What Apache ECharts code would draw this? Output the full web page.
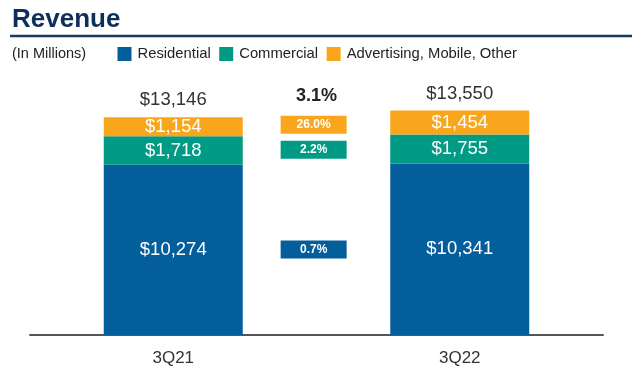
<!DOCTYPE html>
<html>
<head>
<meta charset="utf-8">
<script src="https://cdn.jsdelivr.net/npm/echarts@6/dist/echarts.min.js"></script>
<style>
html,body{margin:0;padding:0;background:#fff;}
#c{width:639px;height:378px;}
</style>
</head>
<body>
<div id="c"></div>
<script>
const categories = ['3Q21', '3Q22'];
const residential = [10274, 10341];
const commercial = [1718, 1755];
const advertising = [1154, 1454];
const totals = [13146, 13550];
const seriesNames = ['Residential', 'Commercial', 'Advertising, Mobile, Other'];
const growthLabels = ['0.7%', '2.2%', '26.0%'];
const totalGrowth = '3.1%';

const colors = ['#035e9b', '#009a85', '#f9a61c'];
const FONT = '"Liberation Sans", Arial, sans-serif';
const money = v => '$' + Number(v).toLocaleString('en-US');

// box vertical positions: average midpoint of each segment across the two bars
const mid = (arrs, k) => {
  let s = 0;
  for (let i = 0; i < categories.length; i++) {
    let base = 0;
    for (let j = 0; j < k; j++) base += arrs[j][i];
    s += base + arrs[k][i] / 2;
  }
  return s / categories.length;
};
const segs = [residential, commercial, advertising];
const boxData = growthLabels.map((g, k) => ({
  value: [0.49, mid(segs, k)],
  label: g,
  itemStyle: { color: colors[k], opacity: 1 }
}));

const barLabel = {
  show: true, position: 'inside', color: '#fff', fontSize: 18.5, fontFamily: FONT,
  formatter: p => money(p.value)
};

const chart = echarts.init(document.getElementById('c'), null, { renderer: 'canvas' });
chart.setOption({
  animation: false,
  backgroundColor: '#fff',
  textStyle: { fontFamily: FONT },
  title: {
    text: 'Revenue', left: 12, top: 7, padding: 0,
    textStyle: { fontSize: 26, fontWeight: 'bold', color: '#0d2f5a', fontFamily: FONT }
  },
  graphic: [
    { type: 'line', shape: { x1: 10, y1: 36, x2: 632, y2: 36 }, style: { stroke: '#1b3a62', lineWidth: 2.5 } },
    { type: 'text', left: 12, top: 46, style: { text: '(In Millions)', fontSize: 14.5, fill: '#222', fontFamily: FONT } }
  ],
  legend: {
    data: seriesNames, left: 117.5, top: 46.5, padding: 0,
    itemWidth: 14, itemHeight: 14, itemGap: 8.5,
    icon: 'rect',
    textStyle: { fontSize: 14.8, color: '#222', fontFamily: FONT, padding: [0, 0, 0, 1] }
  },
  grid: { left: 30, right: 36, top: 86.5, bottom: 43, containLabel: false, outerBoundsMode: 'none' },
  xAxis: [
    {
      type: 'category', data: categories,
      axisLine: { show: true, lineStyle: { color: '#555', width: 2 } },
      axisTick: { show: false },
      axisLabel: { color: '#333', fontSize: 17, margin: 15, fontFamily: FONT },
      splitLine: { show: false }
    },
    { type: 'value', min: -0.5, max: 1.5, show: false, splitLine: { show: false } }
  ],
  yAxis: { type: 'value', min: 0, max: 15000, show: false, splitLine: { show: false } },
  series: [
    { name: seriesNames[0], type: 'bar', stack: 't', data: residential, barWidth: 139, itemStyle: { color: colors[0] }, label: barLabel },
    { name: seriesNames[1], type: 'bar', stack: 't', data: commercial, itemStyle: { color: colors[1] }, label: barLabel },
    { name: seriesNames[2], type: 'bar', stack: 't', data: advertising, itemStyle: { color: colors[2] }, label: barLabel },
    {
      name: 'totals', type: 'scatter', data: totals, symbolSize: 1,
      itemStyle: { color: 'rgba(0,0,0,0)', opacity: 1 },
      label: { show: true, position: 'top', distance: 7, color: '#333', fontSize: 18.5, fontFamily: FONT, formatter: p => money(p.value) },
      silent: true
    },
    {
      name: 'growth', type: 'scatter', xAxisIndex: 1, data: boxData,
      symbol: 'rect', symbolSize: [66, 18], itemStyle: { opacity: 1 },
      label: { show: true, position: 'inside', color: '#fff', fontSize: 12, fontWeight: 'bold', fontFamily: FONT, formatter: p => p.data.label },
      silent: true
    },
    {
      name: 'totalGrowth', type: 'scatter', xAxisIndex: 1,
      data: [{ value: boxData[2].value.map((v, i) => i === 0 ? 0.5 : v) }],
      symbol: 'rect', symbolSize: [66, 18], itemStyle: { color: 'rgba(0,0,0,0)', opacity: 1 },
      label: { show: true, position: 'top', distance: 11, color: '#222', fontSize: 18, fontWeight: 'bold', fontFamily: FONT, formatter: () => totalGrowth },
      silent: true
    }
  ]
});
</script>
</body>
</html>
